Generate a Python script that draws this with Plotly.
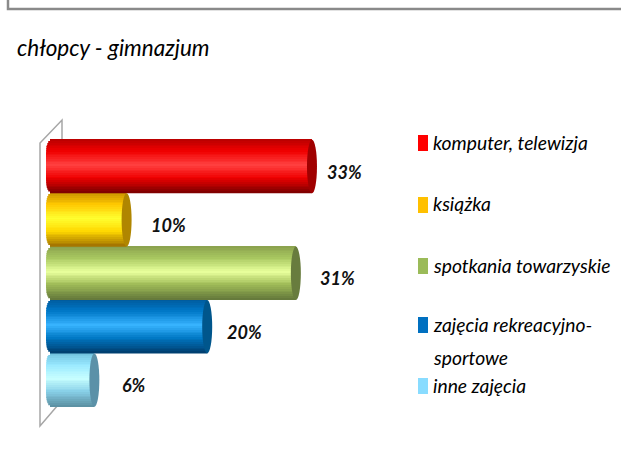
import math
import plotly.graph_objects as go

categories = ["komputer, telewizja", "książka", "spotkania towarzyskie", "zajęcia rekreacyjno-<br>sportowe", "inne zajęcia"]
values = [33, 10, 31, 20, 6]
labels = ["33%", "10%", "31%", "20%", "6%"]
title = "chłopcy - gimnazjum"
legend_colors = ["#ff0000", "#ffc000", "#9bbb59", "#0070c0", "#89dcff"]
# gradient stops per bar: top edge, upper, highlight, lower, bottom edge
gradients = [
    ["#b80000", "#f00000", "#ff4040", "#f00000", "#7a0000"],
    ["#c89000", "#ffc800", "#ffff30", "#ffd800", "#a07000"],
    ["#8aa04c", "#a8c860", "#e8ff9c", "#a0bc58", "#62763a"],
    ["#005a9c", "#0078c8", "#38b4ff", "#0078c4", "#003c6c"],
    ["#70c0dc", "#98e8ff", "#c8ffff", "#88d0e8", "#5a8ea0"],
]
cap_colors = ["#a00000", "#b08600", "#687c3e", "#00568c", "#5b91a8"]
label_shift = [33, 42, 42, 37, 40]

W, H = 621, 454
X0, PX = 46, 8.06      # pixel of value 0, pixels per percent
Y0, PY = 166.5, 53.4   # pixel of first bar centre, pixels per bar
CAP = 5                # half width of bar end in pixels
LEFT_ROUND = 7         # rounding of the bar start in pixels
STRIPS = 30
FONT = "Lato"


def mix(a, b, t):
    ca = [int(a[i:i + 2], 16) for i in (1, 3, 5)]
    cb = [int(b[i:i + 2], 16) for i in (1, 3, 5)]
    return "#" + "".join(f"{round(p + (q - p) * t):02x}" for p, q in zip(ca, cb))


def ramp(stops, t):
    pos = [0, 0.22, 0.48, 0.72, 1]
    for k in range(4):
        if t <= pos[k + 1]:
            return mix(stops[k], stops[k + 1], (t - pos[k]) / (pos[k + 1] - pos[k]))
    return stops[-1]


def px(x):
    return x / W


def py(y):
    return 1 - y / H


y_pos = list(range(len(values)))
fig = go.Figure()

# true-value bars, hidden under the shading
for i, (c, v) in enumerate(zip(categories, values)):
    fig.add_trace(go.Bar(
        x=[v], y=[i], orientation="h", width=0.5, name=c.replace("<br>", " "),
        marker=dict(color=legend_colors[i], line_width=0), showlegend=False,
    ))

# cylinder shading, drawn as thin strips over the bars
for k in range(STRIPS):
    t = (k + 0.5) / STRIPS
    edge = abs(2 * t - 1)
    inset = LEFT_ROUND * (1 - math.sqrt(max(0, 1 - edge ** 6))) / PX
    fig.add_trace(go.Bar(
        x=[v - inset for v in values], y=y_pos, base=inset, orientation="h",
        width=1 / STRIPS + 0.002, offset=-0.5 + k / STRIPS,
        marker=dict(color=[ramp(g, t) for g in gradients], line_width=0),
        showlegend=False, hoverinfo="skip",
    ))

shapes = []
annotations = []

# bar end caps
for i, v in enumerate(values):
    shapes.append(dict(type="circle", xref="x", yref="y", x0=v - CAP / PX, x1=v + CAP / PX,
                       y0=i - 0.5, y1=i + 0.5, fillcolor=cap_colors[i], line_width=0, layer="above"))
    annotations.append(dict(x=v, y=i, xref="x", yref="y", text=f"<b><i>{labels[i]}</i></b>", showarrow=False,
                            xshift=label_shift[i], yshift=-5, font=dict(family=FONT, size=18, color="#111111")))

# grey wall of the chart
shapes.append(dict(type="path", xref="paper", yref="paper", layer="below",
                   path=f"M {px(62)} {py(139)} L {px(62)} {py(120)} L {px(40)} {py(143)} "
                        f"L {px(40)} {py(426)} L {px(58)} {py(405)}",
                   line=dict(color="#a6a6a6", width=1.5)))
# outer frame
shapes.append(dict(type="path", xref="paper", yref="paper", layer="below",
                   path=f"M {px(8)} 1 L {px(8)} {py(9)} L 1 {py(9)}",
                   line=dict(color="#8a8a8a", width=2.5)))

# legend
legend_y = [143, 205, 266, 325, 386]
for i, c in enumerate(categories):
    shapes.append(dict(type="rect", xref="paper", yref="paper",
                       x0=px(418), x1=px(428), y0=py(legend_y[i] - 8), y1=py(legend_y[i] + 8),
                       fillcolor=legend_colors[i], line_width=0))
    for n, part in enumerate(c.split("<br>")):
        annotations.append(dict(x=px(430.5), y=py(legend_y[i] + 33 * n - 1), xref="paper", yref="paper",
                                xanchor="left", yanchor="middle", showarrow=False,
                                text=f"<i>{part}</i>", font=dict(family=FONT, size=19.3, color="#000000")))

annotations.append(dict(x=px(15), y=py(47), xref="paper", yref="paper", xanchor="left", yanchor="middle",
                        showarrow=False, text=f"<i>{title}</i>", font=dict(family=FONT, size=22.5, color="#000000")))

fig.update_layout(
    width=W, height=H, margin=dict(l=0, r=0, t=0, b=0), autosize=False,
    paper_bgcolor="white", plot_bgcolor="rgba(0,0,0,0)", barmode="overlay", showlegend=False,
    xaxis=dict(range=[-X0 / PX, (W - X0) / PX], visible=False),
    yaxis=dict(range=[(H - Y0) / PY, -Y0 / PY], visible=False),
    shapes=shapes, annotations=annotations,
)
fig.write_html("out.html", config=dict(displayModeBar=False),
               post_script="document.body.style.margin='0';document.body.style.overflow='hidden';")
